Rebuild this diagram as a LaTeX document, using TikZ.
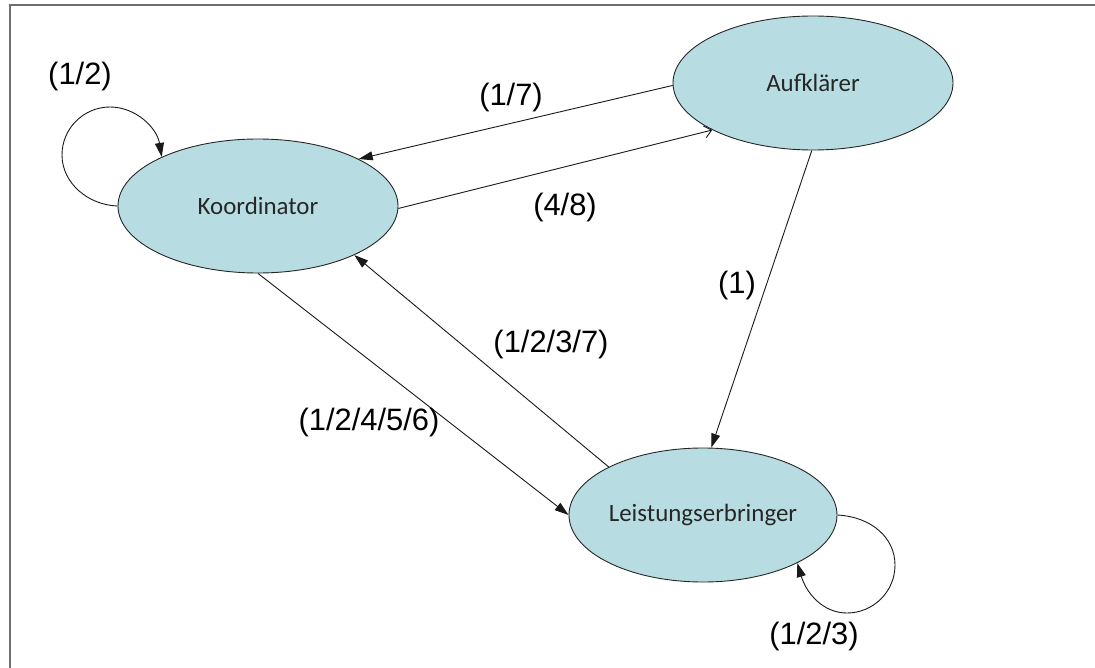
\documentclass[tikz,border=0pt]{standalone}
\usepackage{fontspec}
\setmainfont{Liberation Sans}
\newfontfamily\statefont{Carlito}
\usetikzlibrary{shapes.geometric,arrows.meta}
\definecolor{statefill}{RGB}{183,221,227}
\definecolor{frameline}{RGB}{110,110,110}
\tikzset{
  state/.style={ellipse, draw=black!85, line width=0.9bp, fill=statefill,
    inner sep=0pt, font=\statefont\fontsize{25}{30}\selectfont, text=black!85},
  trans/.style={draw=black!90, line width=0.9bp, -{Triangle[length=14bp,width=9bp]}},
  opentrans/.style={draw=black!90, line width=0.9bp, -{Straight Barb[length=7bp,width=12bp]}},
  lbl/.style={font=\fontsize{31}{36}\selectfont, inner sep=0pt}
}
\begin{document}
\begin{tikzpicture}[x=1bp,y=-1bp]
\useasboundingbox (0,0) rectangle (1095,668);
% frame on the top and left edges
\draw[frameline, line width=2bp] (9.5,668) -- (9.5,5.5) -- (1095,5.5);

% states
\node[state, minimum width=280bp, minimum height=134bp] (K) at (258,206) {Koordinator};
\node[state, minimum width=280bp, minimum height=134bp] (A) at (813,83) {Aufklärer};
\node[state, minimum width=268bp, minimum height=134bp] (L) at (703,515) {Leistungserbringer};

% self loop on Koordinator
\draw[trans] (K.180) .. controls (88,205) and (62,183) .. (62,155)
  .. controls (62,128) and (84,107) .. (110,107)
  .. controls (136,107) and (157,128) .. (K.153);
\node[lbl] (l12) at (80,77) {(1/2)};

% Aufklärer <-> Koordinator
\draw[trans] (A.181) -- (K.25);
\node[lbl] (l17) at (511,98) {(1/7)};
\draw[opentrans] (K.-1) -- (A.205);
\node[lbl] (l48) at (565,208) {(4/8)};

% Aufklärer -> Leistungserbringer
\draw[trans] (A.-91) -- (L.83);
\node[lbl] (l1) at (737,286) {(1)};

% Koordinator <-> Leistungserbringer
\draw[trans] (K.-90) -- (L.180);
\node[lbl] (l12456) at (369,423) {(1/2/4/5/6)};
\draw[trans] (L.153) -- (K.-27);
\node[lbl] (l1237) at (551,345) {(1/2/3/7)};

% self loop on Leistungserbringer
\draw[trans] (L.0) .. controls (872,517) and (895,538) .. (895,565)
  .. controls (895,592) and (873,613) .. (847,613)
  .. controls (822,613) and (806,592) .. (L.-27);
\node[lbl] (l123) at (814,637) {(1/2/3)};
\end{tikzpicture}
\end{document}
